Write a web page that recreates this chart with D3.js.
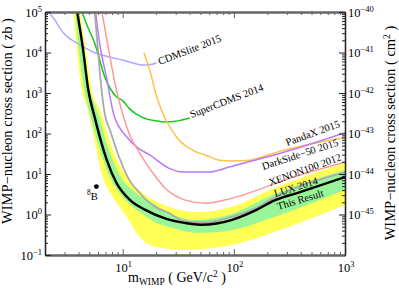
<!DOCTYPE html>
<html><head><meta charset="utf-8">
<script src="https://cdn.jsdelivr.net/npm/d3@7"></script>
<style>body{margin:0;background:#fff}svg{display:block}text{font-family:"Liberation Serif","Times New Roman",serif;fill:#000}</style>
</head><body><svg id="c" width="399" height="293"></svg>
<script>
// ---- tick labels ----
const xTickValues=[10,100,1000];
const xTickExps=["1","2","3"];
const yLeftValues=[0.1,1,10,100,1000,10000,100000];
const yLeftExps=["−1","0","1","2","3","4","5"];
const yRightValues=[1e-45,1e-44,1e-43,1e-42,1e-41,1e-40];
const yRightExps=["−45","−44","−43","−42","−41","−40"];

// ---- series (mass GeV, cross section zb) ----
const cdmsliteMass=[2.15,2.46,2.72,3.05,3.87,5.4,7.66,10,12.4,15.1,17.5,20.2];
const cdmsliteSigma=[1e5,6.3e4,4.0e4,2.7e4,1.72e4,1.03e4,7700,6500,5500,4900,5000,5500];
const supercdmsMass=[4.3,4.86,5.6,6.9,8.8,10,11.6,15,20,24,30,34,40];
const supercdmsSigma=[1e5,4.2e4,1.7e4,2500,800,650,400,250,205,192,200,215,240];
const darksideMass=[15.5,18.2,19.4,22.9,30.5,45,55,74,95,138,177,231,1000];
const darksideSigma=[1.0e4,2500,1200,320,82,36,29.5,22,21,22,26,33,80];
const pandaxMass=[5.7,6.2,7.2,8.3,10.9,13.4,17.5,26,35,60,91,135,231,1000];
const pandaxSigma=[1e5,1.7e4,2200,300,82,46,29.5,14,11.2,11.2,14.9,20,29.5,105];
const xenonMass=[6.5,7.3,8.5,10,11.6,14,16.5,19,24,36,55,95,163,231,1000];
const xenonSigma=[1e5,1.7e4,1800,300,90,35,17,10,4.5,2.3,1.9,2.5,4.0,5.8,19.5];
const luxMass=[5.6,6.0,6.2,6.9,7.7,9,11.1,14.2,20,26,36,55,95,163,231,1000];
const luxSigma=[1e5,1.1e4,3700,300,120,33,8.4,3.4,1.5,1.1,0.68,0.64,0.87,1.5,2.6,11];
const resultMass=[3.9,4.4,4.9,5.6,6.2,7.2,8.8,11.6,16,24,36,50,70,95,160,230,400,1000];
const resultSigma=[1e5,1.2e4,1200,250,85,22,6,2.3,1.3,0.8,0.62,0.56,0.6,0.73,1.3,2.2,3.6,8.4];
// sensitivity bands
const y2UpMass=[4.12,4.67,5.28,6.23,8.15,10.9,15.1,21.5,26.4,47.1,95,231,1000];
const y2UpSigma=[1e5,1.15e4,1186,380,39,8.4,3.4,1.92,1.53,1.15,1.53,4.5,18.7];
const g1UpMass=[3.99,4.38,5.06,5.85,7.5,9.61,13.1,18.6,23.8,47.1,95,231,1000];
const g1UpSigma=[1e5,1.15e4,1186,380,39,8.4,3.4,1.92,1.22,0.73,1.03,3.2,12.6];
const g1LoMass=[3.75,4.04,4.52,4.96,5.98,7.66,10.0,13.4,20.2,26.4,47.1,95,231,1000];
const g1LoSigma=[1e5,1.15e4,1186,380,58,8.4,2.7,1.29,0.62,0.49,0.35,0.41,0.87,4.03];
const y2LoMass=[3.6,3.87,4.29,4.86,5.62,6.63,8.15,10.9,14.2,20.2,36,67,130,231,1000];
const y2LoSigma=[1e5,1.15e4,1186,380,58,8.4,2.7,0.87,0.28,0.158,0.133,0.15,0.22,0.37,1.72];
const b8Mass=[5.8];
const b8Sigma=[4.9];

const svg=d3.select("#c");
const L=45,R=345,T=12,B=255;
const x=d3.scaleLog().domain([2,1000]).range([L,R]);
const y=d3.scaleLog().domain([0.1,1e5]).range([B,T]);
const yR=d3.scaleLog().domain([1e-46,1e-40]).range([B,T]);
const zip=(m,s)=>m.map((v,i)=>[v,s[i]]);

svg.append("clipPath").attr("id","pc").append("rect").attr("x",L).attr("y",T).attr("width",R-L).attr("height",B-T);
const plot=svg.append("g").attr("clip-path","url(#pc)");
const line=d3.line().x(d=>x(d[0])).y(d=>y(d[1])).curve(d3.curveMonotoneX);
function band(um,us,lm,ls){
  return line(zip(um,us))+line(zip(lm,ls).reverse()).replace(/^M/,"L")+"Z";
}
plot.append("path").attr("d",band(y2UpMass,y2UpSigma,y2LoMass,y2LoSigma)).attr("fill","#ffff55");
plot.append("path").attr("d",band(g1UpMass,g1UpSigma,g1LoMass,g1LoSigma)).attr("fill","#99f599");

const series=[
  [cdmsliteMass,cdmsliteSigma,"#aaaaff",1.5],
  [supercdmsMass,supercdmsSigma,"#11cc11",1.5],
  [darksideMass,darksideSigma,"#ffc34a",1.5],
  [pandaxMass,pandaxSigma,"#bb77ff",1.5],
  [xenonMass,xenonSigma,"#ff9999",1.5],
  [luxMass,luxSigma,"#aaaaaa",1.8],
  [resultMass,resultSigma,"#000000",2.4]
];
series.forEach(([m,s,c,w])=>{
  plot.append("path").attr("d",line(zip(m,s))).attr("fill","none").attr("stroke",c).attr("stroke-width",w);
});
plot.selectAll("circle.b8").data(zip(b8Mass,b8Sigma)).enter().append("circle")
  .attr("cx",d=>x(d[0])).attr("cy",d=>y(d[1])).attr("r",2.4).attr("fill","#000");

// labels anchored at data coordinates
const labels=[
  ["CDMSlite 2015",21.5,4900,-21],
  ["SuperCDMS 2014",41.6,241,-21],
  ["PandaX 2015",302,49,-20],
  ["DarkSide−50 2015",184,12.6,-18],
  ["XENON100 2012",213,5.06,-20],
  ["LUX 2014",236,2.7,-17],
  ["This Result",251,1.29,-17]
];
labels.forEach(([t,m,s,a])=>{
  svg.append("text").attr("transform",`translate(${x(m)},${y(s)}) rotate(${a})`).attr("font-size",10.5).text(t);
});
const b8=svg.append("text").attr("x",x(4.78)).attr("y",y(2.28)).attr("font-size",10.5);
b8.append("tspan").attr("font-size",7.5).attr("dy",-5).text("8");
b8.append("tspan").attr("dy",5).text("B");

// axes
const minorX=x.ticks().filter(v=>!xTickValues.includes(v)&&v>2);
const minorY=y.ticks().filter(v=>!yLeftValues.includes(v));
const minorYR=yR.ticks().filter(v=>Math.abs(Math.log10(v)-Math.round(Math.log10(v)))>1e-6);
function styleAxis(g,col,w){g.select(".domain").attr("stroke",col).attr("stroke-width",w);g.selectAll(".tick line").attr("stroke",col).attr("stroke-width",1);g.selectAll(".tick text").remove();}
svg.append("g").attr("transform",`translate(0,${B})`).call(d3.axisBottom(x).tickValues(minorX).tickSize(-3).tickSizeOuter(0).tickFormat("")).call(g=>styleAxis(g,"#666",2));
svg.append("g").attr("transform",`translate(0,${B})`).call(d3.axisBottom(x).tickValues(xTickValues).tickSize(-6).tickSizeOuter(0)).call(g=>styleAxis(g,"#666",2));
svg.append("g").attr("transform",`translate(0,${T})`).call(d3.axisTop(x).tickValues(minorX).tickSize(-3).tickSizeOuter(0).tickFormat("")).call(g=>styleAxis(g,"#666",2));
svg.append("g").attr("transform",`translate(0,${T})`).call(d3.axisTop(x).tickValues(xTickValues).tickSize(-6).tickSizeOuter(0)).call(g=>styleAxis(g,"#666",2));
svg.append("g").attr("transform",`translate(${L},0)`).call(d3.axisLeft(y).tickValues(minorY).tickSize(-3).tickSizeOuter(0).tickFormat("")).call(g=>styleAxis(g,"#222",1.3));
svg.append("g").attr("transform",`translate(${L},0)`).call(d3.axisLeft(y).tickValues(yLeftValues).tickSize(-6).tickSizeOuter(0)).call(g=>styleAxis(g,"#222",1.3));
svg.append("g").attr("transform",`translate(${R},0)`).call(d3.axisRight(yR).tickValues(minorYR).tickSize(-3).tickSizeOuter(0).tickFormat("")).call(g=>styleAxis(g,"#222",1.3));
svg.append("g").attr("transform",`translate(${R},0)`).call(d3.axisRight(yR).tickValues(yRightValues).tickSize(-6).tickSizeOuter(0)).call(g=>styleAxis(g,"#222",1.3));

function powLabel(px,py,exp,anchor){
  const t=svg.append("text").attr("x",px).attr("y",py).attr("font-size",12.5).attr("text-anchor",anchor);
  t.append("tspan").text("10");
  t.append("tspan").attr("font-size",8.5).attr("dy",-5).text(exp);
  return t;
}
xTickValues.forEach((v,i)=>powLabel(x(v)+1,272,xTickExps[i],"middle"));
yLeftValues.forEach((v,i)=>powLabel(42,y(v)+4.5,yLeftExps[i],"end"));
yRightValues.forEach((v,i)=>powLabel(348,yR(v)+4.5,yRightExps[i],"start"));

// axis titles
const xt=svg.append("text").attr("x",128).attr("y",282).attr("font-size",14);
xt.append("tspan").text("m");
xt.append("tspan").attr("font-size",9.5).attr("dy",3).text("WIMP");
xt.append("tspan").attr("dy",-3).text(" ( GeV/c");
xt.append("tspan").attr("font-size",9.5).attr("dy",-5).text("2");
xt.append("tspan").attr("dy",5).text(" )");

svg.append("text").attr("transform","translate(12,121) rotate(-90)").attr("text-anchor","middle").attr("font-size",14.5).text("WIMP−nucleon cross section ( zb )");
const rt=svg.append("text").attr("transform","translate(395,133) rotate(-90)").attr("text-anchor","middle").attr("font-size",14.5);
rt.append("tspan").text("WIMP−nucleon cross section ( cm");
rt.append("tspan").attr("font-size",9.5).attr("dy",-5).text("2");
rt.append("tspan").attr("dy",5).text(" )");
</script></body></html>
